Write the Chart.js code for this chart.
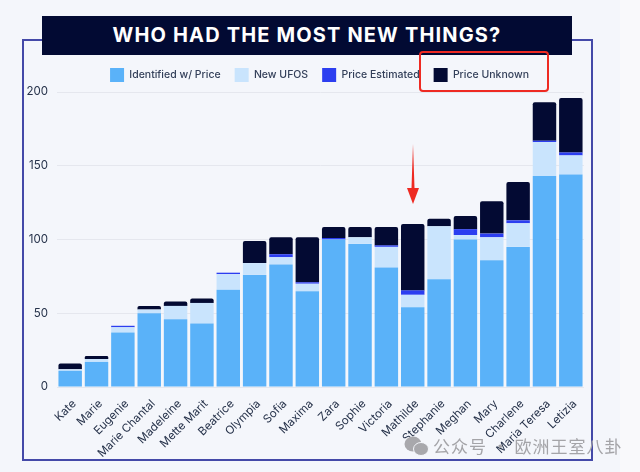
<!DOCTYPE html>
<html>
<head>
<meta charset="utf-8">
<script src="https://cdn.jsdelivr.net/npm/chart.js@4"></script>
<style>
html, body { margin: 0; padding: 0; background: #f4f6fb; }
#page { position: relative; width: 640px; height: 472px; overflow: hidden; background: #f4f6fb; }
#strip { position: absolute; left: 620px; top: 0; width: 20px; height: 472px; background: #f9f9fb; }
#frame { position: absolute; left: 22px; top: 39px; width: 567px; height: 418px; border: 2px solid #4449a8; }
#title { position: absolute; left: 42px; top: 16px; width: 530px; height: 39px; background: #020a33; color: #fff;
  text-align: center; font: 700 20px/39px Inter, sans-serif; letter-spacing: 1.15px; }
#box { position: absolute; left: 419px; top: 51px; width: 126px; height: 37px; border: 2px solid #ee2a22; border-radius: 4px; }
#chartWrap { position: absolute; left: 0; top: 0; width: 640px; height: 472px; }
#arrow { position: absolute; left: 400px; top: 140px; }
#mark { position: absolute; left: 433px; top: 434px; color: #a4a4a8; font: 17px/24px "Noto Sans CJK SC", sans-serif; letter-spacing: 1px; white-space: nowrap; }
</style>
</head>
<body>
<div id="page">
  <div id="strip"></div>
  <div id="frame"></div>
  <div id="chartWrap"><canvas id="newThings" width="640" height="472"></canvas></div>
  <div id="title">WHO HAD THE MOST NEW THINGS?</div>
  <div id="box"></div>
  <svg id="arrow" width="26" height="70">
    <polygon points="13,4 14.5,48 19,48 13,64 7,48 11.5,48" fill="#ee2a22"/>
  </svg>
  <svg style="position:absolute;left:403px;top:434px" width="27" height="24">
    <ellipse cx="10" cy="10" rx="8.5" ry="7.5" fill="#a8a8ac"/>
    <ellipse cx="18" cy="15" rx="7.5" ry="6.5" fill="#a8a8ac" stroke="#f4f6fb"/>
  </svg>
  <div id="mark">公众号 · 欧洲王室八卦</div>
</div>
<script>
// bottom segment first
const names = ['Kate', 'Marie', 'Eugenie', 'Marie Chantal', 'Madeleine', 'Mette Marit', 'Beatrice', 'Olympia', 'Sofia', 'Maxima', 'Zara', 'Sophie', 'Victoria', 'Mathilde', 'Stephanie', 'Meghan', 'Mary', 'Charlene', 'Maria Teresa', 'Letizia']
const identified = [11, 17, 37, 50, 46, 43, 66, 76, 83, 65, 100, 97, 81, 54, 73, 100, 86, 95, 143, 144]
const newUfos = [1, 2, 3.5, 2.5, 9, 14, 10.5, 8, 5, 5, 0, 4.5, 14, 8.5, 36, 3, 15.5, 16, 23, 13]
const priceEstimated = [0, 0, 1, 0, 0, 0, 1, 0, 2, 1, 1, 0, 1, 3, 0, 4, 2.5, 2, 1, 2]
const priceUnknown = [4, 2, 0, 2.5, 3, 3, 0, 15, 11.5, 30.5, 7.5, 7, 12.5, 45, 5, 9, 22, 26, 26, 37]

// legend sits centred on the page, not on the plot
const legendShift = {
	id: 'legendShift',
	afterLayout(chart) {
		chart.legend.left += 15
		chart.legend.right += 15
	},
}

new Chart(document.getElementById('newThings').getContext('2d'), {
	type: 'bar',
	plugins: [legendShift],
	data: {
		labels: names,
		datasets: [
			{ label: 'Identified w/ Price', data: identified, backgroundColor: '#5ab2f9' },
			{ label: 'New UFOS', data: newUfos, backgroundColor: '#c9e4fd' },
			{ label: 'Price Estimated', data: priceEstimated, backgroundColor: '#2c3ef0' },
			{ label: 'Price Unknown', data: priceUnknown, backgroundColor: '#030a33', borderRadius: 2, borderSkipped: 'bottom' },
		],
	},
	options: {
		responsive: false,
		animation: false,
		layout: { padding: { left: 25, right: 56, top: 54, bottom: 0 } },
		datasets: { bar: { barPercentage: 0.89, categoryPercentage: 1 } },
		plugins: {
			title: { display: false },
			tooltip: { enabled: false },
			legend: {
				position: 'top',
				labels: {
					boxWidth: 14,
					boxHeight: 14,
					padding: 14,
					color: '#34405a',
					font: { family: 'Inter, sans-serif', size: 10.5, weight: '500' },
				},
			},
		},
		scales: {
			x: {
				stacked: true,
				grid: { display: false },
				border: { display: false },
				afterFit: (scale) => { scale.height = 85 },
				ticks: { color: '#26324a', font: { family: 'Inter, sans-serif', size: 11.5 }, maxRotation: 45, minRotation: 45, autoSkip: false, padding: 2, labelOffset: 4 },
			},
			y: {
				stacked: true,
				min: 0,
				max: 200,
				afterFit: (scale) => { scale.width = 32 },
				grid: { color: '#e5e7ee', drawTicks: false },
				border: { display: false },
				ticks: { stepSize: 50, color: '#26324a', font: { family: 'Inter, sans-serif', size: 11.5 }, padding: 9 },
			},
		},
	},
})
</script>
</body>
</html>
